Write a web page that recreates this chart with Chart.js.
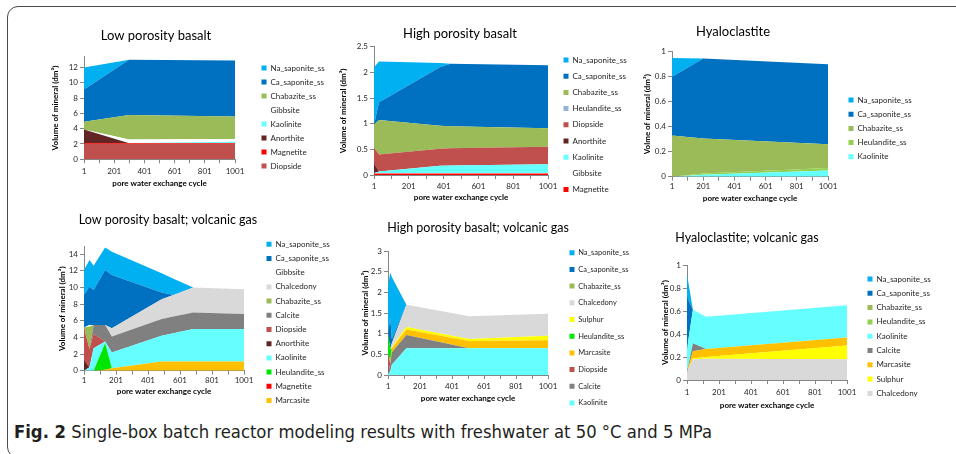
<!DOCTYPE html>
<html>
<head>
<meta charset="utf-8">
<script src="https://cdn.jsdelivr.net/npm/chart.js@4.4.1/dist/chart.umd.min.js"></script>
<style>
html,body{margin:0;padding:0;background:#fff;}
#page{position:relative;width:956px;height:454px;overflow:hidden;background:#fff;}
#frame{position:absolute;left:7px;top:6px;width:1000px;height:452px;border:1.5px solid #4a4a4a;border-radius:11px;box-sizing:border-box;}
canvas{position:absolute;}
#caption{position:absolute;left:14px;top:422px;font-family:"Liberation Sans Narrow","DejaVu Sans Condensed","Liberation Sans",sans-serif;font-size:18px;line-height:20px;white-space:nowrap;transform-origin:0 0;color:#231f20;}
#caption b{color:#231f20;}
</style>
</head>
<body>
<div id="page">
  <div id="frame"></div>
  <canvas id="c1"></canvas>
  <canvas id="c2"></canvas>
  <canvas id="c3"></canvas>
  <canvas id="c4"></canvas>
  <canvas id="c5"></canvas>
  <canvas id="c6"></canvas>
  <div id="caption"><b>Fig. 2</b> Single-box batch reactor modeling results with freshwater at 50 °C and 5 MPa</div>
</div>
<script>
// ---------- shared axis ticks ----------
const xTickValues = [1, 101, 201, 301, 401, 501, 601, 701, 801, 901, 1001];
const xTickLabels = ['1', '', '201', '', '401', '', '601', '', '801', '', '1001'];

// ---------- Panel 1: Low porosity basalt ----------
const p1Cycles     = [1, 300, 1001];
const p1Diopside   = [2.0, 2.0, 2.0];
const p1Magnetite  = [0.1, 0.1, 0.1];
const p1Anorthite  = [1.8, 0, 0];
const p1Kaolinite  = [0, 0.02, 0.2];
const p1Gibbsite   = [0, 0.45, 0.35];
const p1Chabazite  = [1.0, 3.2, 2.95];
const p1CaSaponite = [4.2, 7.23, 7.3];
const p1NaSaponite = [2.9, 0, 0];
const p1YTicks  = [0, 2, 4, 6, 8, 10, 12];
const p1YLabels = ['0', '2', '4', '6', '8', '10', '12'];

// ---------- Panel 2: High porosity basalt ----------
const p2Cycles     = [1, 30, 380, 440, 1001];
const p2Magnetite  = [0.03, 0.03, 0.03, 0.03, 0.03];
const p2Gibbsite   = [0.01, 0.01, 0.01, 0.01, 0.01];
const p2Kaolinite  = [0, 0.03, 0.14, 0.145, 0.17];
const p2Anorthite  = [0.18, 0, 0, 0, 0];
const p2Diopside   = [0.31, 0.33, 0.33, 0.335, 0.34];
const p2Heulandite = [0, 0, 0, 0, 0];
const p2Chabazite  = [0.45, 0.67, 0.45, 0.43, 0.36];
const p2CaSaponite = [0, 0.35, 1.14, 1.22, 1.23];
const p2NaSaponite = [1.12, 0.79, 0.08, 0, 0];
const p2YTicks  = [0, 0.5, 1, 1.5, 2, 2.5];
const p2YLabels = ['0', '0.5', '1', '1.5', '2', '2.5'];

// ---------- Panel 3: Hyaloclastite ----------
const p3Cycles     = [1, 201, 1001];
const p3Kaolinite  = [0, 0.015, 0.05];
const p3Heulandite = [0, 0.01, 0.02];
const p3Chabazite  = [0.33, 0.28, 0.19];
const p3CaSaponite = [0.47, 0.64, 0.64];
const p3NaSaponite = [0.15, 0, 0];
const p3YTicks  = [0, 0.1, 0.2, 0.3, 0.4, 0.5, 0.6, 0.7, 0.8, 0.9, 1];
const p3YLabels = ['0', '0.1', '0.2', '0.3', '0.4', '0.5', '0.6', '0.7', '0.8', '0.9', '1'];

// ---------- Panel 4: Low porosity basalt; volcanic gas ----------
const p4Cycles     = [1, 35, 61, 133, 175, 486, 560, 684, 1001];
const p4Marcasite  = [0, 0, 0, 0.1, 0.3, 1.1, 1.1, 1.1, 1.1];
const p4Magnetite  = [0, 0, 0, 0, 0, 0, 0, 0, 0];
const p4Heulandite = [0, 0, 0, 3.2, 0, 0, 0, 0, 0];
const p4Kaolinite  = [0, 0.4, 2.7, 0.2, 1.9, 3.1, 3.4, 3.9, 3.9];
const p4Anorthite  = [1.3, 0, 0, 0, 0, 0, 0, 0, 0];
const p4Diopside   = [3.8, 2.2, 1.7, 0, 0, 0, 0, 0, 0];
const p4Calcite    = [0, 0, 1.1, 2.0, 1.9, 2.0, 2.0, 2.0, 1.8];
const p4Chabazite  = [0.1, 2.7, 0, 0, 0, 0, 0, 0, 0];
const p4Chalcedony = [0, 0, 0, 0, 1.0, 2.4, 2.6, 3.0, 3.0];
const p4Gibbsite   = [0, 0.2, 0, 0, 0, 0, 0, 0, 0];
const p4CaSaponite = [3.9, 4.6, 4.2, 6.6, 6.4, 0.8, 0, 0, 0];
const p4NaSaponite = [3.0, 3.2, 2.9, 2.7, 2.8, 2.3, 1.95, 0, 0];
const p4YTicks  = [0, 2, 4, 6, 8, 10, 12, 14];
const p4YLabels = ['0', '2', '4', '6', '8', '10', '12', '14'];

// ---------- Panel 5: High porosity basalt; volcanic gas ----------
const p5Cycles     = [1, 15, 25, 116, 509, 1001];
const p5Kaolinite  = [0.02, 0.08, 0.25, 0.65, 0.65, 0.65];
const p5Calcite    = [0, 0.2, 0.3, 0.32, 0, 0];
const p5Diopside   = [0.5, 0, 0, 0, 0, 0];
const p5Marcasite  = [0, 0.05, 0.1, 0.13, 0.17, 0.19];
const p5Heulandite = [0.48, 0.3, 0, 0, 0, 0];
const p5Sulphur    = [0, 0, 0.02, 0.06, 0.05, 0.11];
const p5Chalcedony = [0, 0, 0.1, 0.54, 0.55, 0.53];
const p5Chabazite  = [0, 0, 0, 0, 0, 0];
const p5CaSaponite = [0, 0.75, 0.1, 0, 0, 0];
const p5NaSaponite = [1.15, 1.1, 1.5, 0, 0, 0];
const p5YTicks  = [0, 0.5, 1, 1.5, 2, 2.5, 3];
const p5YLabels = ['0', '0.5', '1', '1.5', '2', '2.5', '3'];

// ---------- Panel 6: Hyaloclastite; volcanic gas ----------
const p6Cycles     = [1, 38, 120, 1001];
const p6Chalcedony = [0.07, 0.18, 0.185, 0.18];
const p6Sulphur    = [0, 0.01, 0.015, 0.12];
const p6Marcasite  = [0, 0.06, 0.07, 0.07];
const p6Calcite    = [0, 0.07, 0, 0];
const p6Kaolinite  = [0.2, 0.29, 0.28, 0.28];
const p6Heulandite = [0, 0, 0, 0];
const p6Chabazite  = [0, 0, 0, 0];
const p6CaSaponite = [0.45, 0, 0, 0];
const p6NaSaponite = [0.2, 0, 0, 0];
const p6YTicks  = [0, 0.1, 0.2, 0.3, 0.4, 0.5, 0.6, 0.7, 0.8, 0.9, 1];
const p6YLabels = ['0', '0.1', '0.2', '0.3', '0.4', '0.5', '0.6', '0.7', '0.8', '0.9', '1'];

// ---------- styles ----------
const PALETTE = {
  Na_saponite_ss: '#00B0F0', Ca_saponite_ss: '#0070C0', Chabazite_ss: '#9BBB59',
  Gibbsite: '#FFFFFF', Kaolinite: '#66FFFF', Anorthite: '#632523', Magnetite: '#FF0000',
  Diopside: '#C0504D', Heulandite_ss: '#92D050', Chalcedony: '#D9D9D9', Calcite: '#808080',
  Sulphur: '#FFFF00', Marcasite: '#FFC000'
};
const FONT = 'Lato, "Open Sans", sans-serif';
const TEXT = '#262626';
const AXIS = '#868686';
const AXIS_TITLE_SIZE = 8;
const TICK_SIZE = 8;
const TICK_LEN = 4;

const panels = [
  { id: 'c1', title: 'Low porosity basalt', yTitle: 'Volume of mineral (dm³)', cycles: p1Cycles, yMax: 13.4,
    yTicks: p1YTicks, yLabels: p1YLabels, colors: {},
    series: [['Diopside', p1Diopside], ['Magnetite', p1Magnetite], ['Anorthite', p1Anorthite], ['Kaolinite', p1Kaolinite],
             ['Gibbsite', p1Gibbsite], ['Chabazite_ss', p1Chabazite], ['Ca_saponite_ss', p1CaSaponite], ['Na_saponite_ss', p1NaSaponite]] },
  { id: 'c2', title: 'High porosity basalt', yTitle: 'Volume of mineral (dm³)', cycles: p2Cycles, yMax: 2.5,
    yTicks: p2YTicks, yLabels: p2YLabels, colors: { Heulandite_ss: '#95B3D7' },
    series: [['Magnetite', p2Magnetite], ['Gibbsite', p2Gibbsite], ['Kaolinite', p2Kaolinite], ['Anorthite', p2Anorthite],
             ['Diopside', p2Diopside], ['Heulandite_ss', p2Heulandite], ['Chabazite_ss', p2Chabazite], ['Ca_saponite_ss', p2CaSaponite], ['Na_saponite_ss', p2NaSaponite]] },
  { id: 'c3', title: 'Hyaloclastite', yTitle: 'Volme of mineral (dm³)', cycles: p3Cycles, yMax: 1,
    yTicks: p3YTicks, yLabels: p3YLabels, colors: {},
    series: [['Kaolinite', p3Kaolinite], ['Heulandite_ss', p3Heulandite], ['Chabazite_ss', p3Chabazite], ['Ca_saponite_ss', p3CaSaponite], ['Na_saponite_ss', p3NaSaponite]] },
  { id: 'c4', title: 'Low porosity basalt; volcanic gas', yTitle: 'Volume of mineral (dm³)', cycles: p4Cycles, yMax: 14.9,
    yTicks: p4YTicks, yLabels: p4YLabels, colors: { Heulandite_ss: '#00E600' },
    series: [['Marcasite', p4Marcasite], ['Magnetite', p4Magnetite], ['Heulandite_ss', p4Heulandite], ['Kaolinite', p4Kaolinite],
             ['Anorthite', p4Anorthite], ['Diopside', p4Diopside], ['Calcite', p4Calcite], ['Chabazite_ss', p4Chabazite],
             ['Chalcedony', p4Chalcedony], ['Gibbsite', p4Gibbsite], ['Ca_saponite_ss', p4CaSaponite], ['Na_saponite_ss', p4NaSaponite]] },
  { id: 'c5', title: 'High porosity basalt; volcanic gas', yTitle: 'Volume of mineral (dm³)', cycles: p5Cycles, yMax: 3,
    yTicks: p5YTicks, yLabels: p5YLabels, colors: { Heulandite_ss: '#00E600' },
    series: [['Kaolinite', p5Kaolinite], ['Calcite', p5Calcite], ['Diopside', p5Diopside], ['Marcasite', p5Marcasite],
             ['Heulandite_ss', p5Heulandite], ['Sulphur', p5Sulphur], ['Chalcedony', p5Chalcedony], ['Chabazite_ss', p5Chabazite],
             ['Ca_saponite_ss', p5CaSaponite], ['Na_saponite_ss', p5NaSaponite]] },
  { id: 'c6', title: 'Hyaloclastite; volcanic gas', yTitle: 'Volume of mineral (dm³)', cycles: p6Cycles, yMax: 1,
    yTicks: p6YTicks, yLabels: p6YLabels, colors: {},
    series: [['Chalcedony', p6Chalcedony], ['Sulphur', p6Sulphur], ['Marcasite', p6Marcasite], ['Calcite', p6Calcite],
             ['Kaolinite', p6Kaolinite], ['Heulandite_ss', p6Heulandite], ['Chabazite_ss', p6Chabazite], ['Ca_saponite_ss', p6CaSaponite], ['Na_saponite_ss', p6NaSaponite]] }
];

// ---------- layout (page coordinates) ----------
const GEO = {
  c1: { canvas: [20, 18, 320, 185],  plot: [84, 56.7, 235, 159.3],  title: [156, 36],  titleSize: 13,   yTitleX: 55,    xTitleY: 183,   xLabelY: 171,   legend: [264, 68],    step: 14,   legendFont: 8 },
  c2: { canvas: [330, 18, 310, 190], plot: [374, 46.7, 548, 175],   title: [460, 34],  titleSize: 13,   yTitleX: 343.3, xTitleY: 197,   xLabelY: 186.5, legend: [566, 60],    step: 16.2, legendFont: 8 },
  c3: { canvas: [640, 18, 300, 192], plot: [672, 51.7, 828, 176.7], title: [733, 32],  titleSize: 13,   yTitleX: 647,   xTitleY: 198,   xLabelY: 186.7, legend: [851, 100],   step: 14.2, legendFont: 8 },
  c4: { canvas: [20, 205, 320, 205], plot: [84, 246.7, 244, 370.7], title: [168, 220], titleSize: 12.5, yTitleX: 62,    xTitleY: 391,   xLabelY: 380,   legend: [269, 244.3], step: 14.2, legendFont: 8 },
  c5: { canvas: [330, 205, 310, 210],plot: [388, 251, 548, 375],    title: [478, 228], titleSize: 12.5, yTitleX: 365,   xTitleY: 398,   xLabelY: 386.5, legend: [572, 252.7], step: 16.7, legendFont: 7.5 },
  c6: { canvas: [640, 205, 300, 215],plot: [687, 265, 847, 380],    title: [747, 238], titleSize: 12.5, yTitleX: 665,   xTitleY: 405.5, xLabelY: 392,   legend: [870, 279],   step: 14.3, legendFont: 8 }
};

const placer = {
  id: 'placer',
  afterLayout(chart, args, o) {
    const t = chart.titleBlock;
    if (t) {
      t.left = o.titleX - 200; t.right = o.titleX + 200; t.width = 400;
      t.top = o.titleY - o.titleH / 2; t.bottom = t.top + o.titleH; t.height = o.titleH;
    }
    const lg = chart.legend;
    if (lg) {
      lg.left = o.legendX; lg.top = o.legendY; lg.width = 200; lg.height = 400;
      lg.right = lg.left + 200; lg.bottom = lg.top + 400;
    }
  }
};

function build(p) {
  const g = GEO[p.id];
  const [cx, cy, W, H] = g.canvas;
  const [L, T, R, B] = g.plot;
  const cv = document.getElementById(p.id);
  cv.width = W; cv.height = H;
  cv.style.left = cx + 'px'; cv.style.top = cy + 'px';
  cv.style.width = W + 'px'; cv.style.height = H + 'px';

  const axisLH = AXIS_TITLE_SIZE * 1.2;
  const yScaleLeft = g.yTitleX - axisLH / 2;
  const Wy = L - yScaleLeft;
  const xScaleBottom = g.xTitleY + axisLH / 2;
  const Hx = xScaleBottom - B;
  const pad = { left: yScaleLeft - cx, right: cx + W - R, top: T - g.titleSize - cy, bottom: cy + H - xScaleBottom };
  const xTickPad = g.xLabelY - B - TICK_LEN - TICK_SIZE * 1.2 / 2;
  const lPad = g.step - g.legendFont;

  const datasets = p.series.map(([name, vals], i) => ({
    label: name,
    data: vals.map((v, k) => ({ x: p.cycles[k], y: v })),
    backgroundColor: p.colors[name] || PALETTE[name],
    borderColor: 'rgba(0,0,0,0)',
    borderWidth: 0,
    pointRadius: 0,
    pointHoverRadius: 0,
    tension: 0,
    fill: i === 0 ? 'origin' : '-1'
  }));

  new Chart(cv, {
    type: 'line',
    data: { datasets },
    plugins: [placer],
    options: {
      responsive: false,
      animation: false,
      devicePixelRatio: 1,
      events: [],
      layout: { padding: pad },
      scales: {
        x: {
          type: 'linear', min: 1, max: 1001,
          afterBuildTicks: s => { s.ticks = xTickValues.map(v => ({ value: v })); },
          afterFit: s => { s.height = Hx; s.paddingLeft = 0; s.paddingRight = 0; },
          ticks: { autoSkip: false, maxRotation: 0, padding: xTickPad, color: TEXT,
                   font: { family: FONT, size: TICK_SIZE, lineHeight: 1.2 },
                   callback: (v, i) => xTickLabels[i] },
          grid: { display: true, drawOnChartArea: false, drawTicks: true, tickLength: TICK_LEN, color: AXIS },
          border: { display: true, color: AXIS, width: 1 },
          title: { display: true, text: 'pore water exchange cycle', color: '#000', padding: 0,
                   font: { family: FONT, size: AXIS_TITLE_SIZE, weight: 'bold', lineHeight: 1.2 } }
        },
        y: {
          stacked: true, min: 0, max: p.yMax,
          afterBuildTicks: s => { s.ticks = p.yTicks.map(v => ({ value: v })); },
          afterFit: s => { s.width = Wy; s.paddingTop = 0; s.paddingBottom = 0; },
          ticks: { padding: 2, color: TEXT, font: { family: FONT, size: TICK_SIZE, lineHeight: 1.2 },
                   callback: (v, i) => p.yLabels[i] },
          grid: { display: true, drawOnChartArea: false, drawTicks: true, tickLength: TICK_LEN, color: AXIS },
          border: { display: true, color: AXIS, width: 1 },
          title: { display: true, text: p.yTitle, color: '#000', padding: 0,
                   font: { family: FONT, size: AXIS_TITLE_SIZE, weight: 'bold', lineHeight: 1.2 } }
        }
      },
      plugins: {
        title: { display: true, text: p.title, color: '#000', padding: 0,
                 font: { family: FONT, size: g.titleSize, weight: 'normal', lineHeight: 1 } },
        legend: {
          display: true, position: 'chartArea', align: 'start', reverse: true,
          labels: { boxWidth: 5, boxHeight: 5, padding: lPad, color: TEXT,
                    font: { family: FONT, size: g.legendFont } }
        },
        tooltip: { enabled: false },
        placer: {
          titleX: g.title[0] - cx, titleY: g.title[1] - cy, titleH: g.titleSize,
          legendX: g.legend[0] - cx - 2.5 - lPad,
          legendY: g.legend[1] - cy - g.legendFont / 2 - lPad
        }
      }
    }
  });
}

panels.forEach(build);

// fit the caption to the reference width
const cap = document.getElementById('caption');
const capW = cap.getBoundingClientRect().width;
cap.style.transform = 'scaleX(' + (698 / capW).toFixed(4) + ')';
</script>
</body>
</html>
